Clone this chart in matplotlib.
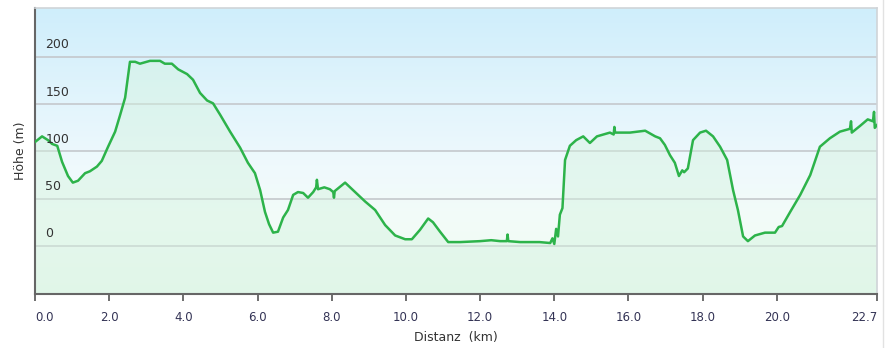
import numpy as np
import matplotlib
matplotlib.use('Agg')
import matplotlib.pyplot as plt
from matplotlib.colors import LinearSegmentedColormap
from matplotlib.lines import Line2D

# elevation profile (km, m)
dist = [0.0, 0.19, 0.35, 0.46, 0.6, 0.73, 0.89, 1.02, 1.16, 1.35, 1.48, 1.67, 1.8,
        1.97, 2.16, 2.29, 2.43, 2.56, 2.7, 2.83, 3.1, 3.37, 3.5, 3.69, 3.86, 4.1,
        4.26, 4.45, 4.64, 4.8, 4.99, 5.26, 5.53, 5.74, 5.93, 6.07, 6.2, 6.31, 6.42,
        6.55, 6.69, 6.82, 6.96, 7.09, 7.23, 7.36, 7.5, 7.58, 7.6, 7.63, 7.8, 7.95,
        8.04, 8.06, 8.08, 8.36, 8.63, 8.9, 9.17, 9.44, 9.71, 9.98, 10.16, 10.38,
        10.6, 10.73, 10.92, 11.14, 11.46, 12.0, 12.3, 12.54, 12.72, 12.74, 12.76,
        13.08, 13.6, 13.89, 13.95, 14.0, 14.05, 14.1, 14.15, 14.22, 14.29, 14.42,
        14.59, 14.78, 14.96, 15.15, 15.5, 15.6, 15.62, 15.64, 16.04, 16.45, 16.72,
        16.85, 16.98, 17.12, 17.25, 17.36, 17.45, 17.5, 17.6, 17.74, 17.93, 18.09,
        18.28, 18.47, 18.66, 18.82, 18.95, 19.09, 19.22, 19.41, 19.68, 19.95,
        20.05, 20.14, 20.36, 20.63, 20.9, 21.16, 21.43, 21.7, 21.97, 22.0, 22.02,
        22.24, 22.45, 22.59, 22.62, 22.64, 22.7]
elev = [110, 116, 112, 108, 106, 89, 74, 67, 69, 77, 79, 84, 90,
        105, 121, 138, 157, 195, 195, 193, 196, 196, 193, 193, 187, 182,
        176, 162, 154, 151, 139, 121, 104, 88, 77, 59, 36, 23, 14,
        15, 30, 38, 54, 57, 56, 51, 57, 62, 70, 60, 62, 60,
        57, 51, 58, 67, 57, 47, 38, 22, 11, 7, 7, 17,
        29, 25, 15, 4, 4, 5, 6, 5, 5, 12, 5,
        4, 4, 3, 8, 2, 18, 10, 33, 40, 91, 106,
        112, 116, 109, 116, 120, 118, 126, 120, 120, 122, 116,
        114, 107, 96, 88, 74, 80, 78, 82, 112, 120, 122,
        116, 105, 91, 59, 38, 10, 5, 11, 14, 14,
        20, 21, 36, 54, 75, 105, 114, 121, 124, 132, 120,
        127, 134, 132, 142, 125, 128]

xticks = [0, 2, 4, 6, 8, 10, 12, 14, 16, 18, 20, 22.7]
xlabels = ['0.0', '2.0', '4.0', '6.0', '8.0', '10.0', '12.0', '14.0', '16.0',
           '18.0', '20.0', '22.7']
ygrid = [0, 50, 100, 150, 200]

fig = plt.figure(figsize=(8.86, 3.48), dpi=100)
ax = fig.add_axes([35 / 886, 1 - 294 / 348, 842 / 886, 286 / 348])
x0, x1 = 0, 22.7
y0, y1 = -51, 252
ax.set_xlim(x0, x1)
ax.set_ylim(y0, y1)

# background gradient: light blue on top, near white, pale green at the bottom
cmap = LinearSegmentedColormap.from_list(
    'bg', [(0.0, '#ebf9f1'), (0.25, '#f3fcf8'), (0.45, '#eff9fd'), (1.0, '#cfeefb')])
grad = np.linspace(0, 1, 256).reshape(-1, 1)
ax.imshow(grad, aspect='auto', cmap=cmap, origin='lower',
          extent=[x0, x1, y0, y1], zorder=0)

for g in ygrid:
    ax.axhline(g, color='#c4c8cc', lw=1.2, zorder=1)
    ax.text(0.28, g + 6, str(g), fontsize=9, color='#333333', va='bottom',
            ha='left', zorder=4)

ax.fill_between(dist, elev, y0, color='#d4f3df', alpha=0.45, lw=0, zorder=2)
ax.plot(dist, elev, color='#2db34a', lw=1.8, zorder=3)

ax.set_xticks(xticks)
ax.set_xticklabels(xlabels, fontsize=8.5, color='#333355')
labs = ax.get_xticklabels()
labs[0].set_ha('left')
labs[-1].set_ha('right')
ax.set_yticks([])
ax.tick_params(axis='x', direction='out', length=5, width=1.2, color='#555555', pad=7)
ax.set_xlabel('Distanz  (km)', fontsize=9, color='#333333', labelpad=5)
ax.set_ylabel('Höhe (m)', fontsize=9, color='#333333', labelpad=6)

for s in ['left', 'bottom']:
    ax.spines[s].set_color('#666666')
    ax.spines[s].set_linewidth(1.5)
for s in ['top', 'right']:
    ax.spines[s].set_color('#d0d4d8')
    ax.spines[s].set_linewidth(1.2)

fig.add_artist(Line2D([883 / 886, 883 / 886], [0, 1], color='#e2e2e2', lw=1))

fig.savefig('out.png', dpi=100, facecolor='white')
